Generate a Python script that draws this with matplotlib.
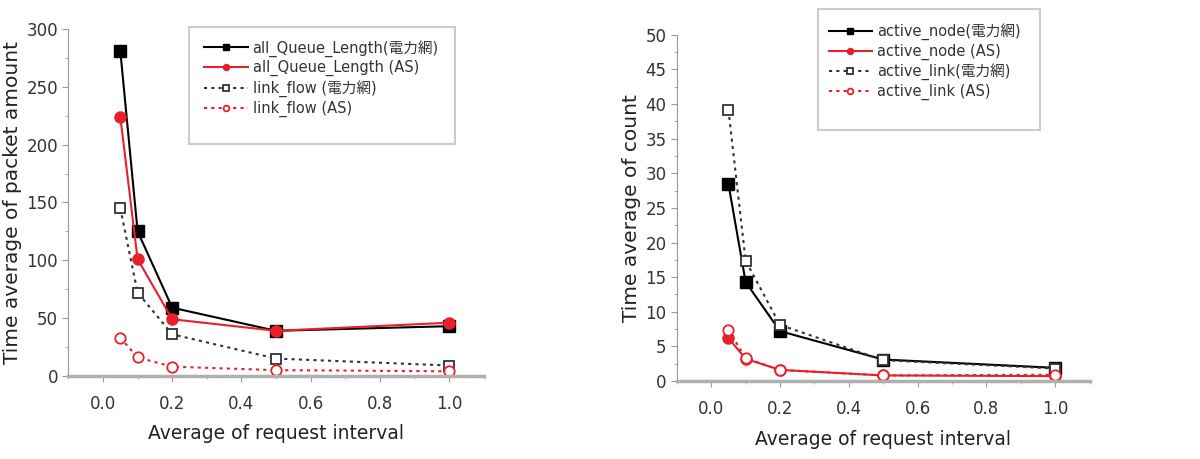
import matplotlib
matplotlib.use("Agg")
import matplotlib.pyplot as plt
from matplotlib.patches import Rectangle
from matplotlib.ticker import MultipleLocator, FormatStrFormatter

plt.rcParams["font.family"] = ["DejaVu Sans", "Noto Sans CJK JP"]

x = [0.05, 0.1, 0.2, 0.5, 1.0]

# left panel: packet amount
queue_grid = [281, 125, 59, 39, 43]
queue_as = [224, 101, 49, 39, 46]
flow_grid = [145, 72, 36, 15, 9]
flow_as = [33, 16, 8, 5, 4]
left_labels = ["all_Queue_Length(電力網)", "all_Queue_Length (AS)",
               "link_flow (電力網)", "link_flow (AS)"]

# right panel: counts
node_grid = [28.5, 14.3, 7.2, 3.1, 1.9]
node_as = [6.2, 3.2, 1.6, 0.8, 0.7]
link_grid = [39.2, 17.4, 8.1, 3.0, 1.8]
link_as = [7.4, 3.3, 1.6, 0.8, 0.9]
right_labels = ["active_node(電力網)", "active_node (AS)",
                "active_link(電力網)", "active_link (AS)"]

RED = "#e8202a"


def draw(ax, series, labels, ylim, ymajor, yminor, ylabel, box, leg_anchor):
    styles = [
        dict(color="black", ls="-", marker="s", mfc="black", ms=8),
        dict(color=RED, ls="-", marker="o", mfc=RED, ms=8),
        dict(color="#333333", ls=(0, (1.5, 2)), marker="s", mfc="white", ms=7.5, mew=1.3),
        dict(color=RED, ls=(0, (1.5, 2)), marker="o", mfc="white", ms=7.5, mew=1.3),
    ]
    for ys, lab, st in zip(series, labels, styles):
        ax.plot(x, ys, label=lab, lw=1.5, **st)
    ax.set_xlim(-0.1, 1.1)
    ax.set_ylim(*ylim)
    ax.xaxis.set_major_locator(MultipleLocator(0.2))
    ax.xaxis.set_minor_locator(MultipleLocator(0.1))
    ax.yaxis.set_major_locator(MultipleLocator(ymajor))
    ax.yaxis.set_minor_locator(MultipleLocator(yminor))
    ax.xaxis.set_major_formatter(FormatStrFormatter("%.1f"))
    for s in ["top", "right"]:
        ax.spines[s].set_visible(False)
    ax.spines["left"].set_color("#999999")
    ax.spines["bottom"].set_color("#b0b0b0")
    ax.spines["bottom"].set_linewidth(2.5)
    ax.tick_params(which="both", colors="#999999", labelcolor="#333333", labelsize=12)
    ax.tick_params(which="major", length=4)
    ax.tick_params(which="minor", length=2.5)
    ax.tick_params(axis="x", pad=10)
    ax.set_xlabel("Average of request interval", fontsize=13.5, color="#222222", labelpad=8)
    ax.set_ylabel(ylabel, fontsize=14.5, color="#222222", labelpad=3)

    # legend frame drawn separately: the original box has empty space below the entries
    x0, y0, x1, y1 = box
    ax.add_patch(Rectangle((x0, y0), x1 - x0, y1 - y0, transform=ax.transAxes,
                           fill=True, facecolor="white", edgecolor="#cccccc",
                           lw=1.5, clip_on=False, zorder=4))
    leg = ax.legend(loc="upper left", bbox_to_anchor=leg_anchor, fontsize=10.5,
                    frameon=False, handlelength=3.0, handletextpad=0.3,
                    labelspacing=0.25, markerscale=0.55, borderpad=0)
    leg.set_zorder(5)
    for t in leg.get_texts():
        t.set_color("#333333")


fig = plt.figure(figsize=(12, 4.59), dpi=100)
fig.patch.set_facecolor("white")
ax1 = fig.add_axes([0.057, 0.181, 0.346, 0.756])
ax2 = fig.add_axes([0.564, 0.170, 0.344, 0.754])

draw(ax1, [queue_grid, queue_as, flow_grid, flow_as], left_labels,
     (0, 300), 50, 25, "Time average of packet amount",
     (0.29, 0.668, 0.93, 1.006), (0.31, 0.99))
draw(ax2, [node_grid, node_as, link_grid, link_as], right_labels,
     (0, 50), 5, 2.5, "Time average of count",
     (0.341, 0.725, 0.881, 1.075), (0.35, 1.055))

fig.savefig("out.png", dpi=100)
